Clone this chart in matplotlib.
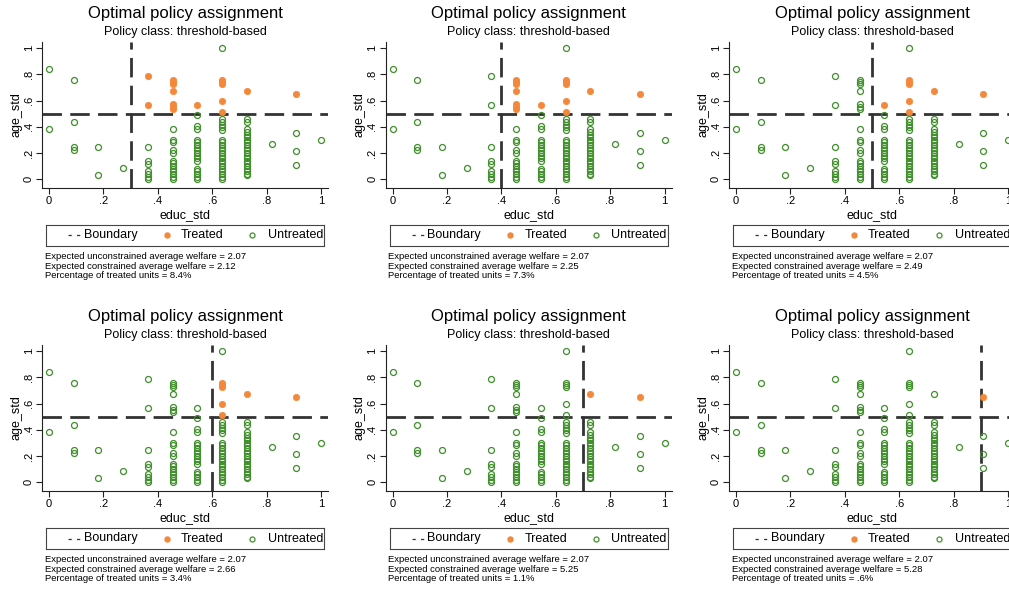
"""
Optimal policy assignment: threshold-based policy class, six cut-offs on educ_std.
"""
import matplotlib
matplotlib.use("Agg")
import matplotlib.pyplot as plt

plt.rcParams["font.family"] = ["Liberation Sans", "DejaVu Sans"]

# educ_std is discrete (k / 11); age_std values read per education column
educ_levels = [0 / 11, 1 / 11, 2 / 11, 3 / 11, 4 / 11, 5 / 11,
               6 / 11, 7 / 11, 8 / 11, 9 / 11, 10 / 11, 11 / 11]
age_by_educ = [
    [0.838, 0.381],
    [0.756, 0.434, 0.246, 0.220],
    [0.246, 0.030],
    [0.084],
    [0.784, 0.568, 0.246, 0.140, 0.117, 0.060, 0.038, 0.018, 0.0],
    [0.756, 0.740, 0.724, 0.676, 0.572, 0.552, 0.532, 0.381, 0.301, 0.281,
     0.222, 0.201, 0.142, 0.122, 0.101, 0.080, 0.060, 0.040, 0.020, 0.0],
    [0.568, 0.487, 0.406, 0.381, 0.301, 0.281, 0.261, 0.241, 0.222, 0.201,
     0.181, 0.161, 0.142, 0.080, 0.060, 0.040, 0.020, 0.0],
    [0.756, 0.740, 0.724, 0.596, 0.512, 0.457, 0.437, 0.417, 0.397,
     0.377, 0.301, 0.281, 0.261, 0.241, 0.222, 0.201, 0.181, 0.161, 0.142,
     0.122, 0.101, 0.080, 0.060, 0.040, 0.020, 0.0],
    [0.676, 0.457, 0.437, 0.381, 0.361, 0.341, 0.321, 0.301, 0.281, 0.261,
     0.241, 0.222, 0.201, 0.181, 0.161, 0.142, 0.122, 0.101, 0.080, 0.060,
     0.040, 0.030],
    [0.270],
    [0.650, 0.350, 0.216, 0.110],
    [0.296],
]
# unit that stays untreated under every policy
never_treated_educ = [7 / 11]
never_treated_age = [1.0]

educ_thresholds = [0.3, 0.4, 0.5, 0.6, 0.7, 0.9]
age_threshold = 0.5
unconstrained_welfare = ["2.07", "2.07", "2.07", "2.07", "2.07", "2.07"]
constrained_welfare = ["2.12", "2.25", "2.49", "2.66", "5.25", "5.28"]
pct_treated = ["8.4%", "7.3%", "4.5%", "3.4%", "1.1%", ".6%"]

tick_vals = [0, 0.2, 0.4, 0.6, 0.8, 1.0]
tick_labels = ["0", ".2", ".4", ".6", ".8", "1"]

ORANGE = "#F4883A"
GREEN = "#3F8F2B"
LINE = "#333333"

W, H = 1009, 589
COL_STEP, ROW_STEP = 343.5, 303.0


def fig_box(left, top, right, bottom):
    return [left / W, 1 - bottom / H, (right - left) / W, (bottom - top) / H]


xs = [x for x, ys in zip(educ_levels, age_by_educ) for _ in ys]
ys = [y for col in age_by_educ for y in col]

fig = plt.figure(figsize=(W / 100, H / 100), dpi=100)

for i, thr in enumerate(educ_thresholds):
    r, c = divmod(i, 3)
    dx, dy = COL_STEP * c, ROW_STEP * r

    ax = fig.add_axes(fig_box(42 + dx, 42 + dy, 328 + dx, 188 + dy))
    treated = [(x > thr) and (y > age_threshold) for x, y in zip(xs, ys)]
    tx = [x for x, t in zip(xs, treated) if t]
    ty = [y for y, t in zip(ys, treated) if t]
    ux = [x for x, t in zip(xs, treated) if not t] + never_treated_educ
    uy = [y for y, t in zip(ys, treated) if not t] + never_treated_age

    ax.plot(ux, uy, "o", ms=4.3, mfc="none", mec=GREEN, mew=0.9, zorder=3)
    ax.plot(tx, ty, "o", ms=4.6, mfc=ORANGE, mec=ORANGE, mew=0.5, zorder=3)
    ax.axhline(age_threshold, color=LINE, lw=2.0, ls=(0, (7, 3)), zorder=2)
    ax.axvline(thr, color=LINE, lw=2.0, ls=(0, (7, 3)), zorder=2)

    ax.set_xlim(-7 / 272, 279 / 272)
    ax.set_ylim(-8.7 / 131.3, 1 + 6 / 131.3)
    ax.set_xticks(tick_vals)
    ax.set_xticklabels(tick_labels)
    ax.set_yticks(tick_vals)
    ax.set_yticklabels(tick_labels, rotation=90, va="center")
    ax.tick_params(length=4, width=0.8, labelsize=8, pad=2, color="#222222")
    for side in ("top", "right"):
        ax.spines[side].set_visible(False)
    for side in ("left", "bottom"):
        ax.spines[side].set_linewidth(0.8)
        ax.spines[side].set_color("#222222")
    ax.set_xlabel("educ_std", fontsize=9, labelpad=2)
    ax.set_ylabel("age_std", fontsize=9, labelpad=1)

    cx = (42 + 328) / 2 + dx
    fig.text(cx / W, 1 - (13.5 + dy) / H, "Optimal policy assignment",
             ha="center", va="center", fontsize=12)
    fig.text(cx / W, 1 - (32 + dy) / H, "Policy class: threshold-based",
             ha="center", va="center", fontsize=9)

    # legend box
    lax = fig.add_axes(fig_box(46 + dx, 225 + dy, 324 + dx, 246 + dy))
    lax.set_xlim(0, 278)
    lax.set_ylim(0, 21)
    lax.set_xticks([])
    lax.set_yticks([])
    for sp in lax.spines.values():
        sp.set_linewidth(0.8)
        sp.set_color("#444444")
    lax.plot([22, 34], [10.5, 10.5], color=LINE, lw=0.9,
             ls=(0, (2.6, 4.2)), dash_capstyle="butt")
    lax.text(38, 10.5, "Boundary", ha="left", va="center", fontsize=9)
    lax.plot([120.7], [10.5], "o", ms=3.6, mfc=ORANGE, mec=ORANGE)
    lax.text(135, 10.5, "Treated", ha="left", va="center", fontsize=9)
    lax.plot([206], [10.5], "o", ms=3.6, mfc="none", mec=GREEN, mew=0.9)
    lax.text(221.7, 10.5, "Untreated", ha="left", va="center", fontsize=9)

    note = (f"Expected unconstrained average welfare = {unconstrained_welfare[i]}\n"
            f"Expected constrained average welfare = {constrained_welfare[i]}\n"
            f"Percentage of treated units = {pct_treated[i]}")
    fig.text((45 + dx) / W, 1 - (252 + dy) / H, note, ha="left", va="top",
             fontsize=6.8, linespacing=1.1)

fig.savefig("out.png", dpi=100)
